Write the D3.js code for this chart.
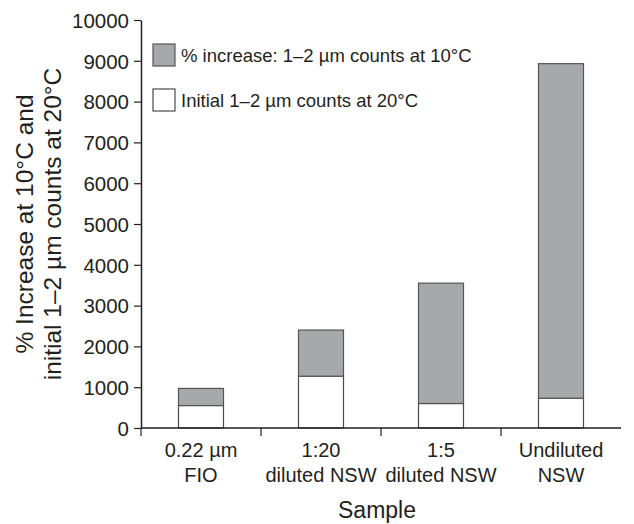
<!DOCTYPE html>
<html>
<head>
<meta charset="utf-8">
<script src="https://cdn.jsdelivr.net/npm/d3@7"></script>
<style>
  body { margin: 0; background: #fff; }
  text { font-family: "Liberation Sans", Arial, sans-serif; fill: #231f20; }
</style>
</head>
<body>
<div id="viz"></div>
<script>
// chart values
const samples = ["FIO", "1:20", "1:5", "Undiluted"];
const sampleLabels = [["0.22 µm", "FIO"], ["1:20", "diluted NSW"], ["1:5", "diluted NSW"], ["Undiluted", "NSW"]];
const initialCounts = [550, 1270, 600, 730];
const pctIncrease = [420, 1130, 2950, 8200];
const yTicks = [0, 1000, 2000, 3000, 4000, 5000, 6000, 7000, 8000, 9000, 10000];
const seriesNames = ["% increase: 1–2 µm counts at 10°C", "Initial 1–2 µm counts at 20°C"];

const fullWidth = 634;
const fullHeight = 524;
const margin = { top: 20, left: 141, right: 13, bottom: 96 };
const width = fullWidth - margin.left - margin.right;
const height = fullHeight - margin.top - margin.bottom;

const rows = samples.map((s, i) => ({ sample: s, initial: initialCounts[i], increase: pctIncrease[i] }));
const stacked = d3.stack().keys(["initial", "increase"])(rows);

const svg = d3.select("#viz").append("svg")
    .attr("width", fullWidth)
    .attr("height", fullHeight);

const g = svg.append("g")
    .attr("transform", "translate(" + margin.left + "," + margin.top + ")");

const xScale = d3.scaleBand()
    .domain(samples)
    .range([0, width])
    .paddingInner(0.625)
    .paddingOuter(0.3125);

const yScale = d3.scaleLinear()
    .domain([0, 10000])
    .range([height, 0]);

const fills = { initial: "#ffffff", increase: "#a7a8ab" };
const strokes = { initial: "#4a4a4a", increase: "#555555" };

// bars
stacked.forEach(layer => {
    g.append("g").selectAll("rect")
        .data(layer)
        .enter().append("rect")
            .attr("x", d => xScale(d.data.sample))
            .attr("y", d => yScale(d[1]))
            .attr("width", xScale.bandwidth())
            .attr("height", d => yScale(d[0]) - yScale(d[1]))
            .attr("fill", fills[layer.key])
            .attr("stroke", strokes[layer.key])
            .attr("stroke-width", 1.2);
});

// y axis
const yAxis = d3.axisLeft(yScale)
    .tickValues(yTicks)
    .tickFormat(d3.format("d"))
    .tickSizeInner(7)
    .tickSizeOuter(0)
    .tickPadding(5);
const yg = g.append("g").call(yAxis);
yg.selectAll("text").style("font-size", "20.5px").attr("dy", "0.36em");
yg.select(".domain").attr("stroke", "#231f20").attr("stroke-width", 1.5);
yg.selectAll(".tick line").attr("stroke", "#231f20").attr("stroke-width", 1.2);

// x axis: ticks at the left edge of each band
const xg = g.append("g").attr("transform", "translate(0," + height + ")");
xg.append("line")
    .attr("x1", 0).attr("x2", width)
    .attr("stroke", "#231f20").attr("stroke-width", 1.5);
xg.selectAll(".tick")
    .data(samples)
    .enter().append("line")
        .attr("x1", d => xScale(d) - xScale.step() * xScale.paddingOuter())
        .attr("x2", d => xScale(d) - xScale.step() * xScale.paddingOuter())
        .attr("y1", 0).attr("y2", 8)
        .attr("stroke", "#231f20").attr("stroke-width", 1.2);

const labelG = xg.selectAll(".lbl")
    .data(samples)
    .enter().append("text")
        .attr("text-anchor", "middle")
        .attr("transform", d => "translate(" + (xScale(d) + xScale.bandwidth() / 2) + ",0)")
        .style("font-size", "20px");
labelG.each(function(d, i) {
    const t = d3.select(this);
    sampleLabels[i].forEach((line, j) => {
        t.append("tspan").attr("x", 0).attr("y", 29 + j * 25).text(line);
    });
});

// axis titles
svg.append("text")
    .attr("x", margin.left + width / 2 - 4)
    .attr("y", 518)
    .attr("text-anchor", "middle")
    .style("font-size", "23px")
    .text("Sample");

const yTitle = svg.append("text")
    .attr("transform", "translate(0,224) rotate(-90)")
    .attr("text-anchor", "middle")
    .style("font-size", "24.5px");
yTitle.append("tspan").attr("x", 0).attr("y", 33).text("% Increase at 10°C and");
yTitle.append("tspan").attr("x", 0).attr("y", 61).text("initial 1–2 µm counts at 20°C");

// legend
const legendKeys = ["increase", "initial"];
const legend = svg.append("g").attr("transform", "translate(153,44)");
legend.selectAll("rect")
    .data(legendKeys)
    .enter().append("rect")
        .attr("x", 0)
        .attr("y", (d, i) => i * 45)
        .attr("width", 22)
        .attr("height", 22)
        .attr("fill", d => fills[d])
        .attr("stroke", d => strokes[d])
        .attr("stroke-width", 1.2);
legend.selectAll("text")
    .data(seriesNames)
    .enter().append("text")
        .attr("x", 28)
        .attr("y", (d, i) => i * 45 + 18)
        .style("font-size", "18.5px")
        .text(d => d);
</script>
</body>
</html>
